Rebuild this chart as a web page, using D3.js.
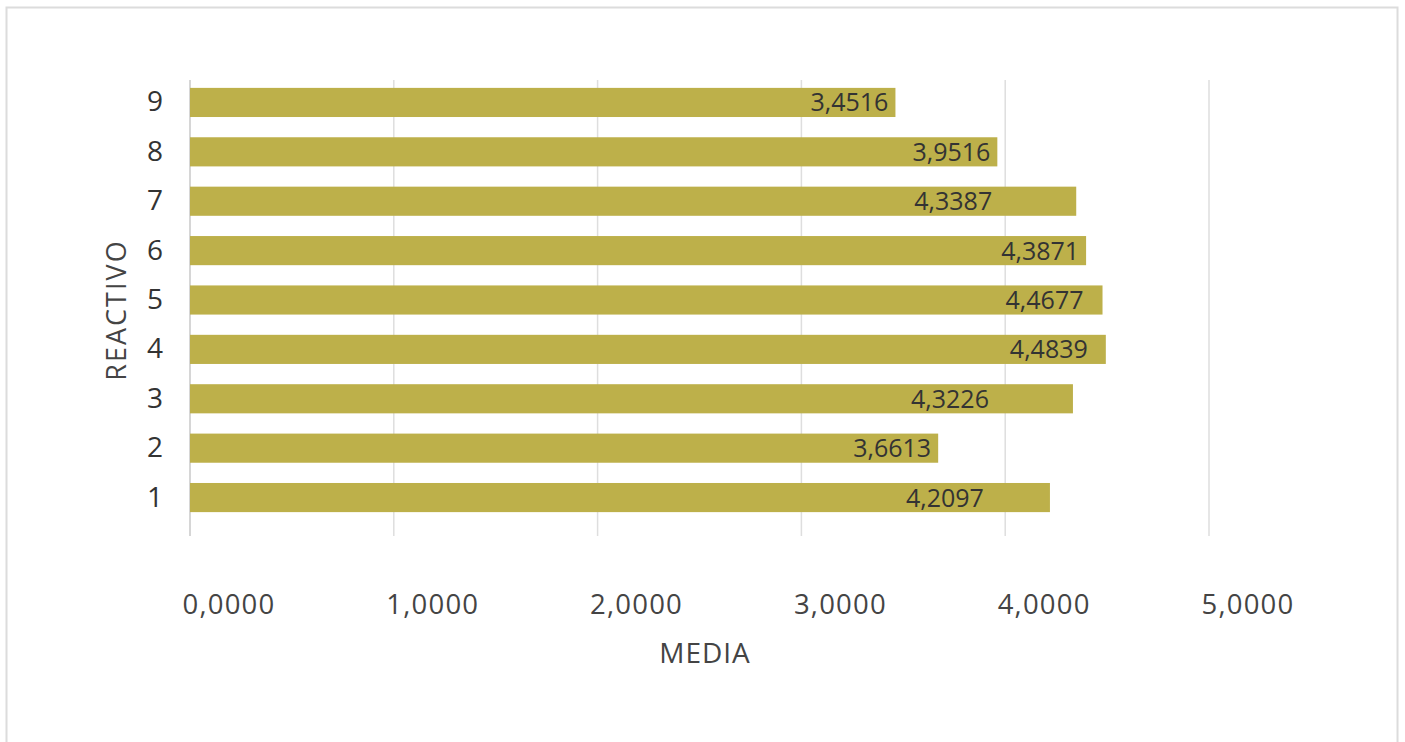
<!DOCTYPE html>
<html>
<head>
<meta charset="utf-8">
<script src="https://cdn.jsdelivr.net/npm/d3@7"></script>
<style>
  body { margin: 0; background: #fff; }
  svg { display: block; font-family: "Open Sans", Lato, sans-serif; }
</style>
</head>
<body>
<div id="chart"></div>
<script>
// Data
const reactivos = ['1', '2', '3', '4', '5', '6', '7', '8', '9'];
const medias = [4.2097, 3.6613, 4.3226, 4.4839, 4.4677, 4.3871, 4.3387, 3.9516, 3.4516];
const xTicks = [0, 1, 2, 3, 4, 5];

const width = 1405;
const height = 742;

// label nudges (px) for the few labels that sit away from the bar end
const labelNudge = { '1': -59, '3': -77, '7': -77, '4': -11, '5': -12 };

const svg = d3.select('#chart')
  .append('svg')
  .attr('width', width)
  .attr('height', height);

// outer frame
svg.append('rect')
  .attr('x', 6.5)
  .attr('y', 7.5)
  .attr('width', 1391)
  .attr('height', 745)
  .attr('fill', '#fff')
  .attr('stroke', '#dcdcdc')
  .attr('stroke-width', 2);

const fmt = v => v.toFixed(4).replace('.', ',');

// Scales
const xScale = d3.scaleLinear()
  .domain([0, 5])
  .range([190, 1209]);

const yScale = d3.scaleBand()
  .domain(reactivos)
  .range([522, 78])
  .paddingInner(0.41)
  .paddingOuter(0.2);

// gridlines
svg.append('g')
  .selectAll('line')
  .data(xTicks)
  .enter()
  .append('line')
  .attr('x1', d => xScale(d))
  .attr('x2', d => xScale(d))
  .attr('y1', 80)
  .attr('y2', 536)
  .attr('stroke', d => d === 0 ? '#c8c8c8' : '#dedede')
  .attr('stroke-width', 1.5);

// bars
svg.append('g')
  .selectAll('rect')
  .data(medias)
  .enter()
  .append('rect')
  .attr('x', xScale(0))
  .attr('y', (d, i) => yScale(reactivos[i]))
  .attr('width', d => xScale(d) - xScale(0) + 2)
  .attr('height', yScale.bandwidth())
  .attr('fill', '#bdb04a');

// value labels
svg.append('g')
  .selectAll('text')
  .data(medias)
  .enter()
  .append('text')
  .attr('x', (d, i) => xScale(d) - 5 + (labelNudge[reactivos[i]] || 0))
  .attr('y', (d, i) => yScale(reactivos[i]) + yScale.bandwidth() / 2)
  .attr('dy', '0.36em')
  .attr('text-anchor', 'end')
  .attr('font-size', 25)
  .attr('fill', '#333')
  .text(d => fmt(d));

// x axis tick labels
const xAxis = d3.axisBottom(xScale)
  .tickValues(xTicks)
  .tickFormat(fmt)
  .tickSize(0)
  .tickPadding(0);

const gx = svg.append('g')
  .attr('transform', 'translate(0, 594)')
  .call(xAxis);
gx.select('.domain').remove();
gx.selectAll('text')
  .attr('font-size', 27.5)
  .attr('letter-spacing', 1.2)
  .attr('fill', '#444')
  .attr('text-anchor', 'start')
  .attr('dx', -8)
  .attr('font-family', '"Open Sans", Lato, sans-serif');

// y axis
const yAxis = d3.axisLeft(yScale)
  .tickSize(0)
  .tickPadding(0);

const gy = svg.append('g')
  .attr('transform', 'translate(163, 0)')
  .call(yAxis);
gy.select('.domain').remove();
gy.selectAll('text')
  .attr('font-size', 28)
  .attr('fill', '#333')
  .attr('font-family', '"Open Sans", Lato, sans-serif');

// axis titles
svg.append('text')
  .attr('x', 705)
  .attr('y', 663)
  .attr('text-anchor', 'middle')
  .attr('font-size', 28)
  .attr('letter-spacing', 1)
  .attr('fill', '#444')
  .text('MEDIA');

svg.append('text')
  .attr('transform', 'translate(126, 310) rotate(-90)')
  .attr('text-anchor', 'middle')
  .attr('font-size', 27)
  .attr('letter-spacing', 2)
  .attr('fill', '#444')
  .text('REACTIVO');
</script>
</body>
</html>
